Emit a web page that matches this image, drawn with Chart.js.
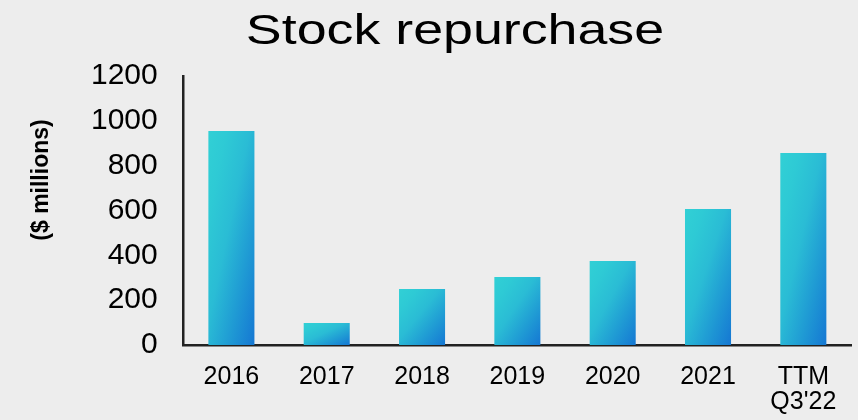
<!DOCTYPE html>
<html><head><meta charset="utf-8">
<script src="https://cdn.jsdelivr.net/npm/chart.js@4/dist/chart.umd.min.js"></script>
<style>html,body{margin:0;padding:0;background:#ededed;}#wrap{width:858px;height:420px;position:relative;}</style>
</head><body>
<div id="wrap"><canvas id="c" width="858" height="420"></canvas></div>
<script>
const categories = ['2016', '2017', '2018', '2019', '2020', '2021', ['TTM', "Q3'22"]];
const repurchases = [955, 98, 250, 303, 375, 607, 856];
const yTickValues = [0, 200, 400, 600, 800, 1000, 1200];
const chartTitle = 'Stock repurchase';
const yAxisTitle = '($ millions)';

const FONT = '"Liberation Sans", Arial, sans-serif';
const BAR_PCT = 0.483;

function barGradient(ctx) {
  const chart = ctx.chart;
  const xs = chart.scales.x, ys = chart.scales.y;
  if (!xs || !ys || ctx.type !== 'data' || !chart.chartArea) return '#2cc5d5';
  const n = categories.length;
  const w = (xs.right - xs.left) / n * BAR_PCT;
  const x0 = xs.getPixelForValue(ctx.dataIndex) - w / 2;
  const y0 = ys.getPixelForValue(ctx.raw);
  const h = ys.getPixelForValue(0) - y0;
  if (!(h > 0) || !isFinite(x0)) return '#2cc5d5';
  const k = 2 * w * h / (h * h + w * w);
  const g = chart.ctx.createLinearGradient(x0, y0, x0 + h * k, y0 + w * k);
  g.addColorStop(0, '#31d0d5');
  g.addColorStop(0.2, '#2ecad5');
  g.addColorStop(0.45, '#2abcd5');
  g.addColorStop(0.7, '#209dd4');
  g.addColorStop(1, '#1577d3');
  return g;
}

const textPlugin = {
  id: 'texts',
  afterDraw(chart) {
    const c = chart.ctx;
    c.save();
    c.fillStyle = '#000';
    c.font = '43px ' + FONT;
    c.textAlign = 'center';
    c.textBaseline = 'alphabetic';
    c.translate(455, 44);
    c.scale(1.25, 1);
    c.fillText(chartTitle, 0, 0);
    c.restore();
    c.save();
    c.fillStyle = '#000';
    c.font = 'bold 23px ' + FONT;
    c.textAlign = 'center';
    c.textBaseline = 'middle';
    c.translate(42, 180);
    c.rotate(-Math.PI / 2);
    c.fillText(yAxisTitle, 0, 0);
    c.restore();
  }
};

new Chart(document.getElementById('c'), {
  type: 'bar',
  data: {
    labels: categories,
    datasets: [{
      data: repurchases,
      backgroundColor: barGradient,
      borderWidth: 0,
      barPercentage: BAR_PCT,
      categoryPercentage: 1.0
    }]
  },
  options: {
    responsive: false,
    animation: false,
    devicePixelRatio: 1,
    layout: { padding: { top: 76, right: 7, bottom: 6, left: 65 } },
    plugins: { legend: { display: false }, title: { display: false }, tooltip: { enabled: false } },
    scales: {
      x: {
        offset: true,
        grid: { display: false, drawTicks: false },
        border: { display: true, color: '#222222', width: 2.5 },
        ticks: { color: '#000', font: { family: FONT, size: 25, lineHeight: 1.0 }, padding: 20, maxRotation: 0, autoSkip: false },
        afterFit(scale) { scale.height = 69; }
      },
      y: {
        min: 0, max: 1200,
        afterBuildTicks(scale) { scale.ticks = yTickValues.map(v => ({ value: v })); },
        grid: { display: false, drawTicks: false },
        border: { display: true, color: '#222222', width: 2.5 },
        ticks: { color: '#000', font: { family: FONT, size: 30 }, padding: 26, callback: v => String(v) }
      }
    }
  },
  plugins: [textPlugin]
});
</script>
</body></html>
